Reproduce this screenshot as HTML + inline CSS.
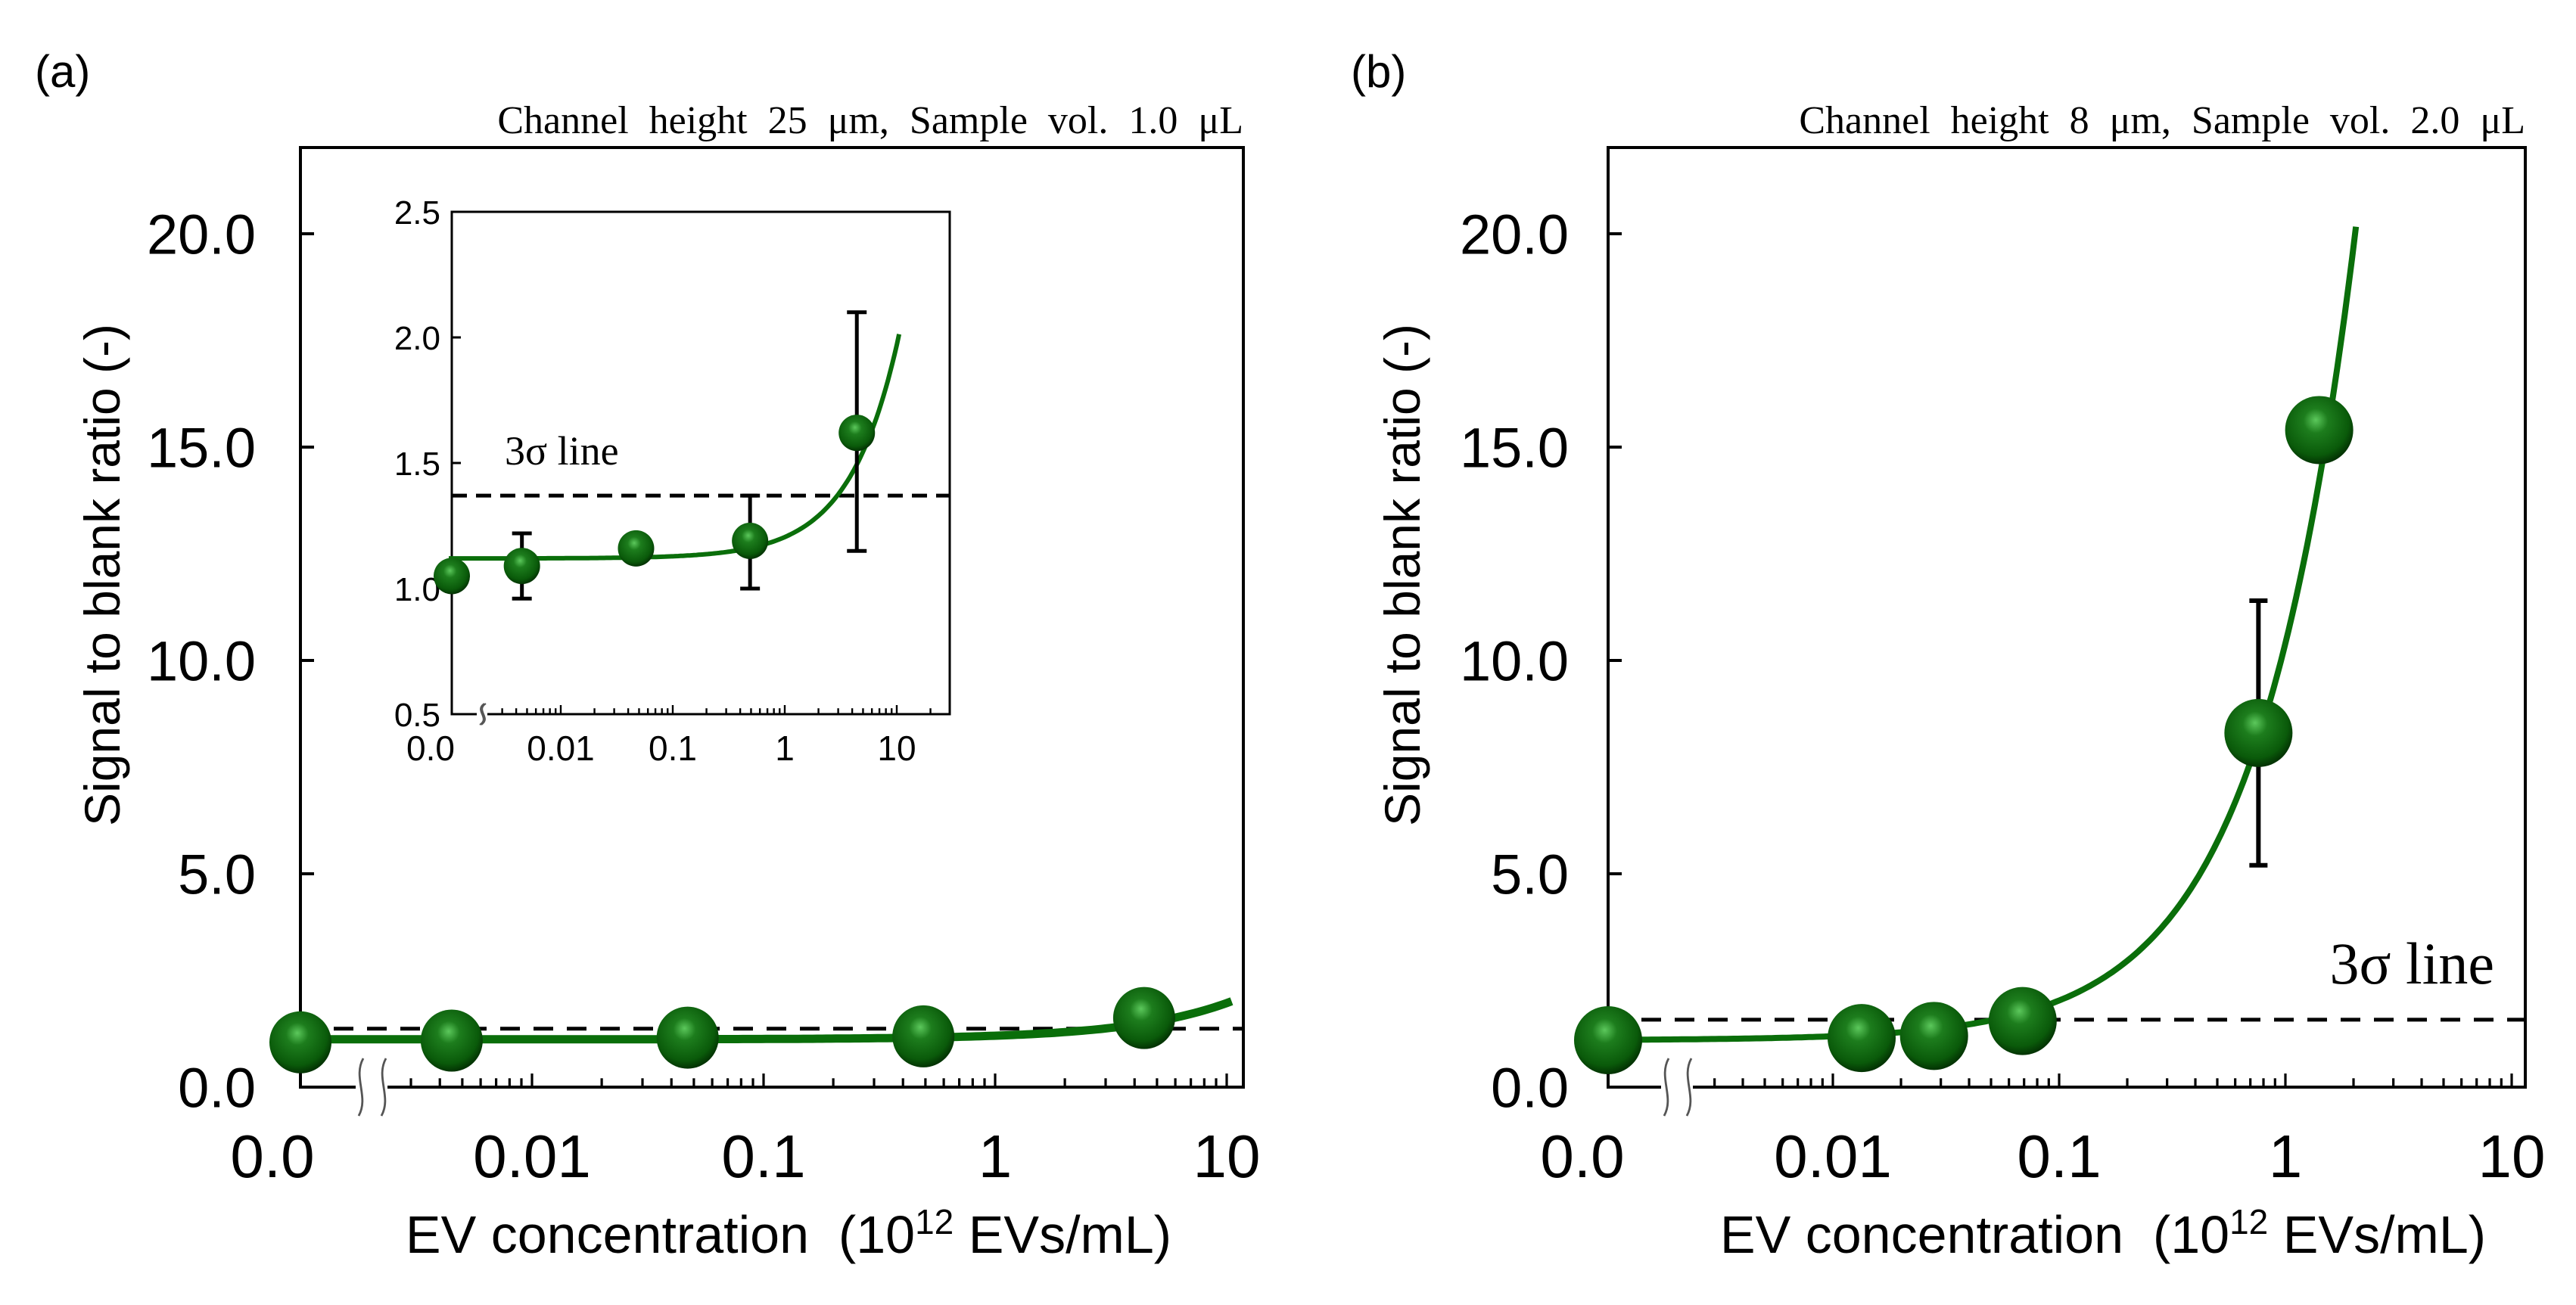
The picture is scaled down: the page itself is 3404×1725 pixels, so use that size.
<!DOCTYPE html>
<html><head><meta charset="utf-8"><style>
html,body{margin:0;padding:0;background:#fff;}
svg{display:block;}
.sans{font-family:"Liberation Sans",Arial,sans-serif;}
.serif{font-family:"Liberation Serif","Times New Roman",serif;}
</style></head><body>
<svg id="fig" width="3404" height="1725" viewBox="0 0 3404 1725" xmlns="http://www.w3.org/2000/svg">
<defs>
<radialGradient id="ball" cx="0.45" cy="0.4" r="0.6" fx="0.45" fy="0.35">
<stop offset="0" stop-color="#5cc85c"/><stop offset="0.3" stop-color="#1d7d1d"/><stop offset="0.8" stop-color="#0a5a0a"/><stop offset="1" stop-color="#033303"/>
</radialGradient>
</defs>
</svg>
<script>
// ---- data ----
const aConc = [0, 0.0045, 0.047, 0.49, 4.4];
const aRatio = [1.05, 1.09, 1.16, 1.19, 1.62];
const aErrLo = [1.0, 0.96, 1.16, 1.0, 1.15];
const aErrHi = [1.1, 1.22, 1.16, 1.37, 2.1];
const aSigma = 1.37;
const bConc = [0, 0.0134, 0.028, 0.069, 0.76, 1.41];
const bRatio = [1.1, 1.15, 1.2, 1.55, 8.3, 15.4];
const bErrLo = [1.1, 1.15, 1.2, 1.55, 5.2, 15.4];
const bErrHi = [1.1, 1.15, 1.2, 1.55, 11.4, 15.4];
const bSigma = 1.58;
const yTicksMain = [0, 5, 10, 15, 20];
const yTicksInset = [0.5, 1.0, 1.5, 2.0, 2.5];
const xTickLabels = ["0.0", "0.01", "0.1", "1", "10"];
const xDecades = [0.01, 0.1, 1, 10];

const NS = "http://www.w3.org/2000/svg";
const svg = document.getElementById('fig');
function mk(tag, attrs, parent, text) {
  const e = document.createElementNS(NS, tag);
  for (const k in attrs) e.setAttribute(k, attrs[k]);
  if (text !== undefined) e.textContent = text;
  (parent || svg).appendChild(e);
  return e;
}

function panel(o) {
  const g = mk('g', {});
  
  
  const X = v => v <= 0 ? o.x0 : o.x1 + o.dec * Math.log10(v);
  const Y = v => o.yb - (v - o.ymin) * o.py;
  const box = mk('rect', {x:o.x0, y:o.yt, width:o.xr - o.x0, height:o.yb - o.yt, fill:'none', stroke:'#000', 'stroke-width':o.lw}, g);
  
  
  mk('rect', {x:o.brk[0], y:o.yb - o.lw, width:o.brk[1] - o.brk[0], height:o.lw * 2, fill:'#fff'}, g);
  o.yt_.forEach((t, i) => {
    const y = Y(t);
    if (i > 0) mk('line', {x1:o.x0, x2:o.x0 + o.tk, y1:y, y2:y, stroke:'#000', 'stroke-width':o.lw}, g);
    const tl = mk('text', {x:o.ylx, y:y + o.fs * 0.36, 'text-anchor':'end', 'font-size':o.fs, class:'sans', fill:'#000'}, g, o.ylab(t));
    
    
  });
  for (let d = -3; d <= 1; d++) {
    for (let m = 1; m <= 9; m++) {
      const v = m * Math.pow(10, d);
      const x = X(v);
      if (x < o.brk[1] + 2 || x > o.xr - 2) continue;
      const len = m === 1 ? o.tk : o.tk * 0.65;
      mk('line', {x1:x, x2:x, y1:o.yb, y2:o.yb - len, stroke:'#000', 'stroke-width':o.lw * 0.8}, g);
    }
  }
  const lx = [o.x0 - o.zoff].concat(xDecades.map(X));
  xTickLabels.forEach((t, i) => {
    const tl = mk('text', {x:lx[i], y:o.xly, 'text-anchor':'middle', 'font-size':o.xfs, class:'sans'}, g, t);
    
    
  });
  const b0 = o.brk[0], b1 = o.brk[1], h = o.bh;
  [b0 + 4, b1 - 8].forEach(bx => {
    mk('path', {d:`M${bx+6},${o.yb-h} C${bx-8},${o.yb-h/3} ${bx+14},${o.yb+h/3} ${bx},${o.yb+h}`, fill:'none', stroke:'#555', 'stroke-width':o.lw * 0.7}, g);
  });
  const sl = mk('line', {x1:o.x0, x2:o.xr, y1:Y(o.sigma), y2:Y(o.sigma), stroke:'#000', 'stroke-width':o.dw, 'stroke-dasharray':o.dash}, g);
  
  
  let d = '';
  const N = 200;
  const lmin = Math.log10(o.cStart), lmax = Math.log10(o.cEnd);
  d += `M${o.x0},${Y(o.fit(0))}`;
  for (let i = 0; i <= N; i++) {
    const v = Math.pow(10, lmin + (lmax - lmin) * i / N);
    d += ` L${X(v).toFixed(1)},${Y(o.fit(v)).toFixed(1)}`;
  }
  const cv = mk('path', {d:d, fill:'none', stroke:'#0a6e0a', 'stroke-width':o.cw}, g);
  
  
  o.conc.forEach((c, i) => {
    if (o.hi[i] - o.lo[i] < 0.02) return;
    const x = X(c), cap = o.cap;
    const eb = mk('path', {d:`M${x},${Y(o.lo[i])} L${x},${Y(o.hi[i])} M${x-cap},${Y(o.lo[i])} L${x+cap},${Y(o.lo[i])} M${x-cap},${Y(o.hi[i])} L${x+cap},${Y(o.hi[i])}`, stroke:'#000', 'stroke-width':o.ew, fill:'none'}, g);
    
    
  });
  o.conc.forEach((c, i) => {
    const p = mk('circle', {cx:X(c), cy:Y(o.val[i]), r:o.r, fill:'url(#ball)'}, g);
    
    
  });
  return g;
}

panel({name:'panel-a-plot', x0:397, xr:1643, yt:195, yb:1437, x1:1315, dec:306, ymin:0, py:56.4,
  yt_:yTicksMain, ylab:t => t.toFixed(1), ylx:338, fs:74, xfs:80, xly:1556, zoff:37, tk:18, lw:4,
  brk:[470, 512], bh:38, sigma:aSigma, dw:5, dash:'26 18',
  fit:v => 1.12 + 0.085 * v, cStart:0.001, cEnd:10.5, cw:11,
  conc:aConc, val:aRatio, lo:aRatio, hi:aRatio, cap:10, ew:5, r:41});

const ins = document.createElementNS(NS, 'rect');
ins.setAttribute('x', 597); ins.setAttribute('y', 280); ins.setAttribute('width', 658); ins.setAttribute('height', 664); ins.setAttribute('fill', '#fff');
svg.appendChild(ins);
panel({name:'panel-a-inset', x0:597, xr:1255, yt:280, yb:944, x1:1037, dec:148, ymin:0.5, py:332,
  yt_:yTicksInset, ylab:t => t.toFixed(1), ylx:582, fs:44, xfs:46, xly:1005, zoff:28, tk:12, lw:3,
  brk:[630, 644], bh:14, sigma:aSigma, dw:5, dash:'20 12',
  fit:v => 1.12 + 0.085 * v, cStart:0.001, cEnd:10.5, cw:6,
  conc:aConc, val:aRatio, lo:aErrLo, hi:aErrHi, cap:13, ew:5, r:24});

panel({name:'panel-b-plot', x0:2125, xr:3337, yt:195, yb:1437, x1:3020, dec:299, ymin:0, py:56.4,
  yt_:yTicksMain, ylab:t => t.toFixed(1), ylx:2073, fs:74, xfs:80, xly:1556, zoff:34, tk:18, lw:4,
  brk:[2195, 2237], bh:38, sigma:bSigma, dw:5, dash:'26 18',
  fit:v => 1.1 + 9.3 * v, cStart:0.001, cEnd:2.05, cw:8,
  conc:bConc, val:bRatio, lo:bErrLo, hi:bErrHi, cap:12, ew:6, r:45});

function txt(attrs, s, name) {
  const e = mk('text', attrs, svg, s);
  
  
  return e;
}
txt({x:46, y:115, 'font-size':60, class:'sans'}, '(a)', 'panel-a-label');
txt({x:1785, y:115, 'font-size':60, class:'sans'}, '(b)', 'panel-b-label');
txt({x:1643, y:176, 'font-size':52, 'text-anchor':'end', 'word-spacing':14, class:'serif'}, 'Channel height  25 μm,  Sample vol.  1.0 μL', 'panel-a-condition');
txt({x:3337, y:176, 'font-size':52, 'text-anchor':'end', 'word-spacing':14, class:'serif'}, 'Channel height  8 μm,  Sample vol.  2.0 μL', 'panel-b-condition');
txt({x:667, y:614, 'font-size':54, class:'serif'}, '3σ line', 'inset-sigma-label');
txt({x:3296, y:1300, 'font-size':78, 'text-anchor':'end', class:'serif'}, '3σ line', 'panel-b-sigma-label');
txt({transform:'translate(158,760) rotate(-90)', 'font-size':66, 'text-anchor':'middle', class:'sans'}, 'Signal to blank ratio  (-)', 'panel-a-y-title');
txt({transform:'translate(1876,760) rotate(-90)', 'font-size':66, 'text-anchor':'middle', class:'sans'}, 'Signal to blank ratio  (-)', 'panel-b-y-title');
const xa = txt({x:1042, y:1656, 'font-size':70, 'text-anchor':'middle', class:'sans'}, '', 'panel-a-x-title');
xa.innerHTML = 'EV concentration&#160;&#160;(10<tspan dy="-25" font-size="46">12</tspan><tspan dy="25"> EVs/mL)</tspan>';
const xb = txt({x:2779, y:1656, 'font-size':70, 'text-anchor':'middle', class:'sans'}, '', 'panel-b-x-title');
xb.innerHTML = 'EV concentration&#160;&#160;(10<tspan dy="-25" font-size="46">12</tspan><tspan dy="25"> EVs/mL)</tspan>';
</script>
</body></html>
